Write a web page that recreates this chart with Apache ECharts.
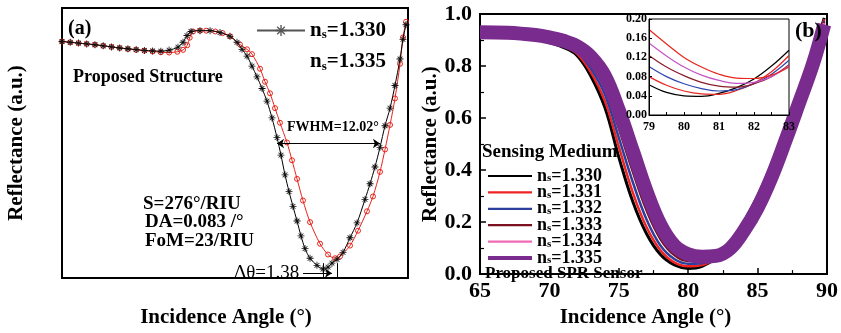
<!DOCTYPE html>
<html>
<head>
<meta charset="utf-8">
<script src="https://cdn.jsdelivr.net/npm/echarts@6/dist/echarts.min.js"></script>
<style>html,body{margin:0;padding:0;background:#fff}#chart{width:841px;height:333px}</style>
</head>
<body>
<div id="chart"></div>
<script>
// panel (a): proposed structure, ns = 1.330 (black) and 1.335 (red)
const blackAngles = [48, 49, 50, 51, 52, 53, 54, 55, 56, 57, 58, 59, 60, 61, 62.08, 62.69, 63.17, 63.66, 64.75, 65.97, 67.18, 68.39, 69.24, 69.85, 70.46, 71.06, 71.67, 72.28, 72.88, 73.49, 74.10, 74.58, 75.07, 75.56, 76.04, 76.53, 77.01, 77.50, 78.11, 78.95, 79.68, 80.29, 80.77, 81.38, 82.11, 82.96, 83.81, 84.78, 85.39, 85.99, 86.60, 87.21, 87.82, 88.42, 89.03, 89.39, 89.76];
const blackRefl = [0.876, 0.873, 0.870, 0.867, 0.864, 0.860, 0.856, 0.852, 0.849, 0.846, 0.843, 0.841, 0.840, 0.844, 0.855, 0.873, 0.898, 0.913, 0.916, 0.916, 0.909, 0.895, 0.873, 0.847, 0.822, 0.785, 0.745, 0.702, 0.655, 0.593, 0.520, 0.455, 0.382, 0.320, 0.265, 0.211, 0.156, 0.109, 0.073, 0.047, 0.033, 0.040, 0.055, 0.069, 0.095, 0.149, 0.204, 0.291, 0.349, 0.411, 0.484, 0.564, 0.629, 0.713, 0.811, 0.884, 0.938];
const redAngles = [48, 49, 50, 51, 52, 53, 54, 55, 56, 57, 58, 59, 60, 61, 62, 62.7, 63.2, 63.5, 63.9, 64.75, 65.5, 66.6, 67.5, 68.4, 69.6, 70.46, 71.06, 72.04, 72.64, 73.25, 73.86, 74.46, 75.31, 75.92, 76.53, 77.25, 78.11, 79.32, 80.29, 81.14, 81.75, 82.96, 83.93, 85.02, 85.75, 86.60, 87.21, 87.82, 88.42, 89.03, 89.39, 89.76];
const redRefl = [0.876, 0.873, 0.870, 0.867, 0.864, 0.860, 0.856, 0.852, 0.848, 0.845, 0.842, 0.839, 0.836, 0.835, 0.838, 0.845, 0.862, 0.890, 0.913, 0.916, 0.916, 0.913, 0.907, 0.895, 0.865, 0.847, 0.829, 0.775, 0.727, 0.684, 0.629, 0.575, 0.502, 0.436, 0.367, 0.287, 0.207, 0.127, 0.087, 0.073, 0.080, 0.120, 0.175, 0.247, 0.302, 0.393, 0.476, 0.567, 0.665, 0.793, 0.891, 0.949];

// panel (b): proposed SPR sensor, ns = 1.330 ... 1.335
const mediumNames = ['1.330', '1.331', '1.332', '1.333', '1.334', '1.335'];
const bAngles = [65, 67, 69, 70, 71, 72, 73, 74, 75, 76, 77, 78, 79, 80, 81, 82, 83, 84, 85, 86, 87, 88, 89, 89.8];
const refl1330 = [0.925, 0.918, 0.905, 0.890, 0.872, 0.840, 0.760, 0.640, 0.450, 0.280, 0.155, 0.075, 0.035, 0.022, 0.030, 0.062, 0.120, 0.200, 0.300, 0.420, 0.565, 0.710, 0.850, 0.985];
const refl1331 = [0.926, 0.920, 0.907, 0.894, 0.877, 0.847, 0.775, 0.665, 0.490, 0.315, 0.180, 0.092, 0.045, 0.030, 0.035, 0.062, 0.115, 0.195, 0.292, 0.412, 0.555, 0.700, 0.843, 0.980];
const refl1332 = [0.927, 0.922, 0.910, 0.898, 0.882, 0.855, 0.790, 0.690, 0.525, 0.355, 0.210, 0.110, 0.058, 0.040, 0.042, 0.064, 0.110, 0.190, 0.285, 0.404, 0.545, 0.690, 0.836, 0.975];
const refl1333 = [0.928, 0.924, 0.913, 0.902, 0.887, 0.862, 0.805, 0.715, 0.560, 0.395, 0.245, 0.135, 0.073, 0.050, 0.050, 0.064, 0.105, 0.182, 0.277, 0.395, 0.535, 0.680, 0.828, 0.970];
const refl1334 = [0.929, 0.926, 0.916, 0.906, 0.892, 0.869, 0.820, 0.740, 0.595, 0.435, 0.280, 0.160, 0.090, 0.063, 0.058, 0.066, 0.100, 0.175, 0.268, 0.385, 0.525, 0.670, 0.820, 0.965];
const refl1335 = [0.930, 0.928, 0.919, 0.910, 0.897, 0.876, 0.835, 0.762, 0.630, 0.475, 0.318, 0.190, 0.110, 0.076, 0.067, 0.070, 0.097, 0.165, 0.255, 0.372, 0.512, 0.660, 0.810, 0.960];

// inset of panel (b)
const insetAngles = [79, 79.5, 80, 80.5, 81, 81.5, 82, 82.5, 83];
const inset1330 = [0.063, 0.047, 0.040, 0.039, 0.045, 0.057, 0.075, 0.102, 0.135];
const inset1331 = [0.080, 0.062, 0.050, 0.044, 0.043, 0.051, 0.066, 0.090, 0.124];
const inset1332 = [0.101, 0.080, 0.065, 0.055, 0.050, 0.053, 0.065, 0.085, 0.114];
const inset1333 = [0.124, 0.100, 0.082, 0.068, 0.060, 0.058, 0.065, 0.080, 0.105];
const inset1334 = [0.150, 0.123, 0.100, 0.083, 0.072, 0.066, 0.068, 0.080, 0.102];
const inset1335 = [0.178, 0.148, 0.120, 0.100, 0.085, 0.077, 0.076, 0.083, 0.100];

const mainColors = ['#000000', '#ee2424', '#2c3f9c', '#7a1020', '#f06ab4', '#7a2b8e'];
const mainWidths = [3, 2.5, 2.5, 2.5, 3, 14];
const insetColors = ['#000000', '#e8261e', '#2e46b0', '#8b1c2c', '#c455c8', '#e8261e'];

const FONT = '"Liberation Serif", "Times New Roman", serif';
const starPath = 'path://M4.4 0H5.6V10H4.4Z M0 4.4H10V5.6H0Z M1.2 2L2 1.2L8.8 8L8 8.8Z M8 1.2L8.8 2L2 8.8L1.2 8Z';

const pairs = (xs, ys) => xs.map((x, i) => [x, ys[i]]);
const mainData = [refl1330, refl1331, refl1332, refl1333, refl1334, refl1335];
const insetData = [inset1330, inset1331, inset1332, inset1333, inset1334, inset1335];

// n with subscript s, then "=value"
function nsRich(size, sub, lh) {
    const base = { fontWeight: 'bold', fontFamily: FONT, color: '#000' };
    return {
        n: Object.assign({ fontSize: size, lineHeight: lh }, base),
        s: Object.assign({ fontSize: sub, lineHeight: 3, verticalAlign: 'bottom' }, base),
        v: Object.assign({ fontSize: size, lineHeight: lh }, base)
    };
}
const nsFormat = name => '{n|n}{s|s}{v|=' + name.slice(1) + '}';

const axisNameStyle = { fontFamily: FONT, fontWeight: 'bold', fontSize: 21, color: '#000' };

const series = [
    {
        name: 'a1.335', type: 'line', xAxisIndex: 0, yAxisIndex: 0,
        data: pairs(redAngles, redRefl), smooth: 0.3,
        symbol: 'circle', symbolSize: 5, showAllSymbol: true, z: 2,
        lineStyle: { color: '#e8231b', width: 1 },
        itemStyle: { color: 'rgba(0,0,0,0)', borderColor: '#e8231b', borderWidth: 1 }
    },
    {
        name: 'a1.330', type: 'line', xAxisIndex: 0, yAxisIndex: 0,
        data: pairs(blackAngles, blackRefl), smooth: 0.3,
        symbol: starPath, symbolSize: 7, showAllSymbol: true, z: 3,
        lineStyle: { color: '#000', width: 1 }, itemStyle: { color: '#111' },
        markLine: {
            silent: true, symbolSize: 7,
            lineStyle: { color: '#000', width: 1, type: 'solid' },
            label: { show: false },
            data: [
                [{ coord: [74.10, 0.498], symbol: 'arrow' }, { coord: [86.60, 0.498], symbol: 'arrow' }],
                [{ coord: [77.25, 0.018], symbol: 'none' }, { coord: [80.77, 0.018], symbol: 'arrow' }],
                [{ coord: [79.68, 0.055], symbol: 'none' }, { coord: [79.68, 0], symbol: 'none' }],
                [{ coord: [81.38, 0.055], symbol: 'none' }, { coord: [81.38, 0], symbol: 'none' }]
            ]
        }
    }
];
mediumNames.forEach((m, i) => {
    series.push({
        name: 'b' + m, type: 'line', xAxisIndex: 1, yAxisIndex: 1,
        data: pairs(bAngles, mainData[i]), smooth: 0.4, symbol: 'none',
        lineStyle: { color: mainColors[i], width: mainWidths[i] }, itemStyle: { color: mainColors[i] }
    });
});
mediumNames.forEach((m, i) => {
    series.push({
        name: 'i' + m, type: 'line', xAxisIndex: 2, yAxisIndex: 2,
        data: pairs(insetAngles, insetData[i]), smooth: 0.4, symbol: 'none',
        lineStyle: { color: insetColors[i], width: 1.2 }, z: 5
    });
});

const hiddenAxis = {
    axisLine: { show: false }, axisTick: { show: false },
    axisLabel: { show: false }, splitLine: { show: false }
};
const boldLabel = size => ({ fontFamily: FONT, fontWeight: 'bold', fontSize: size, color: '#000' });
const blackLine = w => ({ show: true, lineStyle: { color: '#000', width: w } });

const option = {
    animation: false,
    backgroundColor: '#fff',
    grid: [
        { left: 62, top: 8, width: 346, height: 275, show: true, borderColor: '#000', borderWidth: 2 },
        { left: 480, top: 14, width: 349, height: 270, show: true, borderColor: '#000', borderWidth: 2 },
        { left: 649, top: 19, width: 140, height: 96, show: true, borderColor: '#000', borderWidth: 1, backgroundColor: '#fff', z: 4 }
    ],
    xAxis: [
        Object.assign({ gridIndex: 0, type: 'value', min: 48, max: 90,
            name: 'Incidence Angle (°)', nameLocation: 'middle', nameGap: 29,
            nameTextStyle: Object.assign({ padding: [0, 18, 0, 0] }, axisNameStyle) }, hiddenAxis),
        { gridIndex: 1, type: 'value', min: 65, max: 90, interval: 5,
            name: 'Incidence Angle (°)', nameLocation: 'middle', nameGap: 26,
            nameTextStyle: Object.assign({ padding: [0, 16, 0, 0] }, axisNameStyle),
            axisLine: blackLine(2), axisTick: { inside: true, length: 6, lineStyle: { width: 1.5, color: '#000' } },
            minorTick: { show: true, splitNumber: 2, length: 4, lineStyle: { color: '#000', width: 1.2 } },
            axisLabel: Object.assign({ margin: 6 }, boldLabel(22)), splitLine: { show: false } },
        { gridIndex: 2, type: 'value', min: 79, max: 83, interval: 1, z: 10,
            axisLine: blackLine(1), axisTick: { inside: true, length: 3, lineStyle: { color: '#000' } },
            minorTick: { show: true, splitNumber: 2, length: 3, lineStyle: { color: '#000' } },
            axisLabel: Object.assign({ margin: 6, showMaxLabel: true, showMinLabel: true }, boldLabel(12)), splitLine: { show: false } }
    ],
    yAxis: [
        Object.assign({ gridIndex: 0, type: 'value', min: 0, max: 1,
            name: 'Reflectance (a.u.)', nameLocation: 'middle', nameGap: 35,
            nameTextStyle: axisNameStyle }, hiddenAxis),
        { gridIndex: 1, type: 'value', min: 0, max: 1, interval: 0.2,
            name: 'Reflectance (a.u.)', nameLocation: 'middle', nameGap: 37,
            nameTextStyle: axisNameStyle,
            axisLine: blackLine(2), axisTick: { inside: true, length: 6, lineStyle: { width: 1.5, color: '#000' } },
            minorTick: { show: true, splitNumber: 2, length: 4, lineStyle: { color: '#000', width: 1.2 } },
            axisLabel: Object.assign({ margin: 8, formatter: v => v.toFixed(1) }, boldLabel(22)), splitLine: { show: false } },
        { gridIndex: 2, type: 'value', min: 0, max: 0.2, interval: 0.04, z: 10,
            axisLine: blackLine(1), axisTick: { inside: true, length: 3, lineStyle: { color: '#000' } },
            axisLabel: Object.assign({ margin: 2, formatter: v => v.toFixed(2) }, boldLabel(12)), splitLine: { show: false } }
    ],
    legend: [
        {
            orient: 'vertical', left: 251, top: 15, itemWidth: 48, itemHeight: 14, itemGap: 10,
            formatter: nsFormat, textStyle: { rich: nsRich(21, 13, 22) },
            data: [
                { name: 'a1.330', itemStyle: { color: '#555' }, lineStyle: { color: '#555', width: 2 } },
                { name: 'a1.335', itemStyle: { opacity: 0 }, lineStyle: { opacity: 0 } }
            ]
        },
        {
            orient: 'vertical', left: 483, top: 162, itemWidth: 44, itemHeight: 10, itemGap: -1.6,
            formatter: nsFormat, textStyle: { rich: nsRich(18, 11, 16) },
            data: mediumNames.map((m, i) => ({
                name: 'b' + m,
                icon: i === 5 ? 'path://M0 0H40V3.5H0Z' : 'path://M0 0H40V2H0Z'
            }))
        }
    ],
    graphic: [
        { type: 'text', left: 68, top: 19, style: { text: '(a)', font: 'bold 20px ' + FONT, fill: '#000' } },
        { type: 'text', left: 73, top: 68, style: { text: 'Proposed Structure', font: 'bold 18px ' + FONT, fill: '#000' } },
        { type: 'text', left: 287, top: 120, style: { text: 'FWHM=12.02°', font: 'bold 14px ' + FONT, fill: '#000' } },
        { type: 'text', left: 143, top: 195, style: { text: 'S=276°/RIU', font: 'bold 19px ' + FONT, fill: '#000' } },
        { type: 'text', left: 145, top: 213, style: { text: 'DA=0.083 /°', font: 'bold 19px ' + FONT, fill: '#000' } },
        { type: 'text', left: 145, top: 232, style: { text: 'FoM=23/RIU', font: 'bold 19px ' + FONT, fill: '#000' } },
        { type: 'text', left: 234, top: 264, style: { text: 'Δθ=1.38', font: '19px ' + FONT, fill: '#000' } },
        { type: 'text', left: 795, top: 20, style: { text: '(b)', font: 'bold 22px ' + FONT, fill: '#000' }, z: 10 },
        { type: 'text', left: 482, top: 143, style: { text: 'Sensing Medium', font: 'bold 19px ' + FONT, fill: '#000' } },
        { type: 'text', left: 485, top: 265, style: { text: 'Proposed SPR Sensor', font: 'bold 17px ' + FONT, fill: '#000' } }
    ],
    series: series
};

const myChart = echarts.init(document.getElementById('chart'));
myChart.setOption(option);
</script>
</body>
</html>
